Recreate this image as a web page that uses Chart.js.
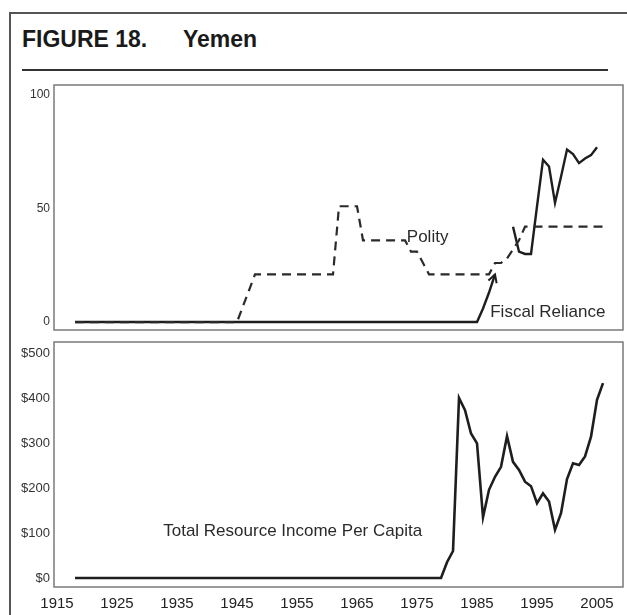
<!DOCTYPE html>
<html>
<head>
<meta charset="utf-8">
<script src="https://cdn.jsdelivr.net/npm/chart.js@4.4.0/dist/chart.umd.min.js"></script>
<style>
  body { margin:0; background:#fff; width:627px; height:615px; overflow:hidden; position:relative; font-family:"Liberation Sans", Arial, sans-serif; }
  #frame { position:absolute; left:9px; top:12px; width:700px; height:700px; border-left:2px solid #555; border-top:2px solid #555; }
  #title { position:absolute; left:22px; top:28px; font-weight:bold; font-size:23px; line-height:23px; color:#1a1a1a; white-space:pre; }
  #title span { position:absolute; left:161px; top:0; }
  #rule { position:absolute; left:22px; top:69px; width:586px; height:2px; background:#333; }
  canvas { position:absolute; left:0; }
</style>
</head>
<body>
<div id="frame"></div>
<div id="title">FIGURE 18.<span>Yemen</span></div>
<div id="rule"></div>
<canvas id="chartTop" width="627" height="260" style="top:75px"></canvas>
<canvas id="chartBottom" width="627" height="280" style="top:335px"></canvas>
<script>
// --- datos ---
const years = [
  1918, 1919,
  1920, 1921, 1922, 1923, 1924, 1925, 1926, 1927, 1928, 1929,
  1930, 1931, 1932, 1933, 1934, 1935, 1936, 1937, 1938, 1939,
  1940, 1941, 1942, 1943, 1944, 1945, 1946, 1947, 1948, 1949,
  1950, 1951, 1952, 1953, 1954, 1955, 1956, 1957, 1958, 1959,
  1960, 1961, 1962, 1963, 1964, 1965, 1966, 1967, 1968, 1969,
  1970, 1971, 1972, 1973, 1974, 1975, 1976, 1977, 1978, 1979,
  1980, 1981, 1982, 1983, 1984, 1985, 1986, 1987, 1988, 1989,
  1990, 1991, 1992, 1993, 1994, 1995, 1996, 1997, 1998, 1999,
  2000, 2001, 2002, 2003, 2004, 2005, 2006
];

// Polity (escala 0-100)
const polity = [
  0, 0,
  0, 0, 0, 0, 0, 0, 0, 0, 0, 0,
  0, 0, 0, 0, 0, 0, 0, 0, 0, 0,
  0, 0, 0, 0, 0, 0, 7, 14, 21, 21,
  21, 21, 21, 21, 21, 21, 21, 21, 21, 21,
  21, 21, 51, 51, 51, 51, 36, 36, 36, 36,
  36, 36, 36, 36, 31, 31, 26, 21, 21, 21,
  21, 21, 21, 21, 21, 21, 21, 21, 26, 26,
  28, 32, 36, 42, 42, 42, 42, 42, 42, 42,
  42, 42, 42, 42, 42, 42, 42
];

// Fiscal Reliance (null = sin dato)
const fiscalReliance = [
  0, 0,
  0, 0, 0, 0, 0, 0, 0, 0, 0, 0,
  0, 0, 0, 0, 0, 0, 0, 0, 0, 0,
  0, 0, 0, 0, 0, 0, 0, 0, 0, 0,
  0, 0, 0, 0, 0, 0, 0, 0, 0, 0,
  0, 0, 0, 0, 0, 0, 0, 0, 0, 0,
  0, 0, 0, 0, 0, 0, 0, 0, 0, 0,
  0, 0, 0, 0, 0, 0, 6, 13, 21, null,
  null, 42, 31, 30, 30, 51, 71.5, 68.5, 52.5, 64,
  76, 74, 70, 72, 73.5, 77, null
];

// Total Resource Income Per Capita ($)
const resourceIncome = [
  0, 0,
  0, 0, 0, 0, 0, 0, 0, 0, 0, 0,
  0, 0, 0, 0, 0, 0, 0, 0, 0, 0,
  0, 0, 0, 0, 0, 0, 0, 0, 0, 0,
  0, 0, 0, 0, 0, 0, 0, 0, 0, 0,
  0, 0, 0, 0, 0, 0, 0, 0, 0, 0,
  0, 0, 0, 0, 0, 0, 0, 0, 0, 0,
  35, 60, 400, 373, 321, 299, 135, 196, 225, 247,
  315, 258, 240, 214, 204, 166, 188, 170, 107, 144,
  220, 255, 251, 270, 314, 396, 433
];

const xTicks = [1915, 1925, 1935, 1945, 1955, 1965, 1975, 1985, 1995, 2005];
const topTicks = [0, 50, 100];
const bottomTicks = [0, 100, 200, 300, 400, 500];

// etiquetas dentro de los graficos (en unidades de los ejes)
const topNotes = [
  { text: 'Polity', year: 1973.3, value: 37.4 },
  { text: 'Fiscal Reliance', year: 1987.2, value: 4.5 }
];
const bottomNotes = [
  { text: 'Total Resource Income Per Capita', year: 1932.7, value: 103 }
];
const arrowYear = 1988;

const fontFamily = '"Liberation Sans", Arial, sans-serif';
const lineColor = '#1e1e1e';

const points = vals => years.map((yr, i) => ({ x: yr, y: vals[i] }));

const boxPlugin = {
  id: 'box',
  afterDraw(chart) {
    const a = chart.chartArea, c = chart.ctx;
    c.save();
    c.strokeStyle = '#7a7a7a';
    c.lineWidth = 1.5;
    c.strokeRect(a.left, a.top, a.right - a.left, a.bottom - a.top);
    c.restore();
  }
};

function notesPlugin(notes) {
  return {
    id: 'notes',
    afterDatasetsDraw(chart) {
      const c = chart.ctx, sx = chart.scales.x, sy = chart.scales.y;
      c.save();
      c.font = '17px ' + fontFamily;
      c.fillStyle = '#2a2a2a';
      c.textAlign = 'left';
      c.textBaseline = 'middle';
      notes.forEach(n => c.fillText(n.text, sx.getPixelForValue(n.year), sy.getPixelForValue(n.value)));
      c.restore();
    }
  };
}

// punta de flecha al final del primer tramo de Fiscal Reliance
const arrowPlugin = {
  id: 'arrow',
  afterDatasetsDraw(chart) {
    const meta = chart.getDatasetMeta(1);
    const i = years.indexOf(arrowYear);
    const p = meta.data[i], q = meta.data[i - 1];
    const ang = Math.atan2(p.y - q.y, p.x - q.x);
    const c = chart.ctx, L = 9;
    c.save();
    c.strokeStyle = lineColor;
    c.lineWidth = 2;
    c.beginPath();
    c.moveTo(p.x - L * Math.cos(ang - 0.5), p.y - L * Math.sin(ang - 0.5));
    c.lineTo(p.x, p.y);
    c.lineTo(p.x - L * Math.cos(ang + 0.5), p.y - L * Math.sin(ang + 0.5));
    c.stroke();
    c.restore();
  }
};

function noPad(s) {
  s.paddingTop = 0; s.paddingBottom = 0; s.paddingLeft = 0; s.paddingRight = 0;
}

function xScale(show) {
  return {
    type: 'linear',
    min: 1914.5,
    max: 2009.33,
    display: show,
    grid: { display: false, drawTicks: false },
    border: { display: false },
    afterBuildTicks: s => { s.ticks = xTicks.map(v => ({ value: v })); },
    afterFit: s => { s.height = show ? 28 : 0; noPad(s); },
    ticks: {
      color: '#222',
      font: { size: 15, family: fontFamily },
      padding: 8,
      maxRotation: 0,
      autoSkip: false,
      callback: v => String(v)
    }
  };
}

function yScale(min, max, tickVals, fmt, size) {
  return {
    min: min,
    max: max,
    grid: { display: false, drawTicks: false },
    border: { display: false },
    afterBuildTicks: s => { s.ticks = tickVals.map(v => ({ value: v })); },
    afterFit: s => { s.width = 54; noPad(s); },
    ticks: {
      color: '#333',
      font: { size: size, family: fontFamily },
      padding: 4,
      callback: fmt
    }
  };
}

Chart.defaults.animation = false;

// --- grafico superior: Polity y Fiscal Reliance ---
new Chart(document.getElementById('chartTop'), {
  type: 'line',
  data: {
    datasets: [{
      label: 'Polity',
      data: points(polity),
      borderColor: '#2a2a2a',
      borderWidth: 2.2,
      borderDash: [9, 6],
      pointRadius: 0,
      tension: 0
    }, {
      label: 'Fiscal Reliance',
      data: points(fiscalReliance),
      borderColor: lineColor,
      borderWidth: 2.4,
      pointRadius: 0,
      tension: 0,
      spanGaps: false
    }]
  },
  options: {
    responsive: false,
    devicePixelRatio: 1,
    layout: { padding: { top: 10, bottom: 5, left: 0, right: 4 } },
    plugins: { legend: { display: false }, tooltip: { enabled: false } },
    scales: {
      x: xScale(false),
      y: yScale(-3.5, 104.4, topTicks, v => String(v), 12)
    }
  },
  plugins: [boxPlugin, notesPlugin(topNotes), arrowPlugin]
});

// --- grafico inferior: ingreso por recursos ---
new Chart(document.getElementById('chartBottom'), {
  type: 'line',
  data: {
    datasets: [{
      label: 'Total Resource Income Per Capita',
      data: points(resourceIncome),
      borderColor: lineColor,
      borderWidth: 2.6,
      pointRadius: 0,
      tension: 0
    }]
  },
  options: {
    responsive: false,
    devicePixelRatio: 1,
    layout: { padding: { top: 7, bottom: 0, left: 0, right: 4 } },
    plugins: { legend: { display: false }, tooltip: { enabled: false } },
    scales: {
      x: xScale(true),
      y: yScale(-20, 524.4, bottomTicks, v => '$' + v, 13)
    }
  },
  plugins: [boxPlugin, notesPlugin(bottomNotes)]
});
</script>
</body>
</html>
